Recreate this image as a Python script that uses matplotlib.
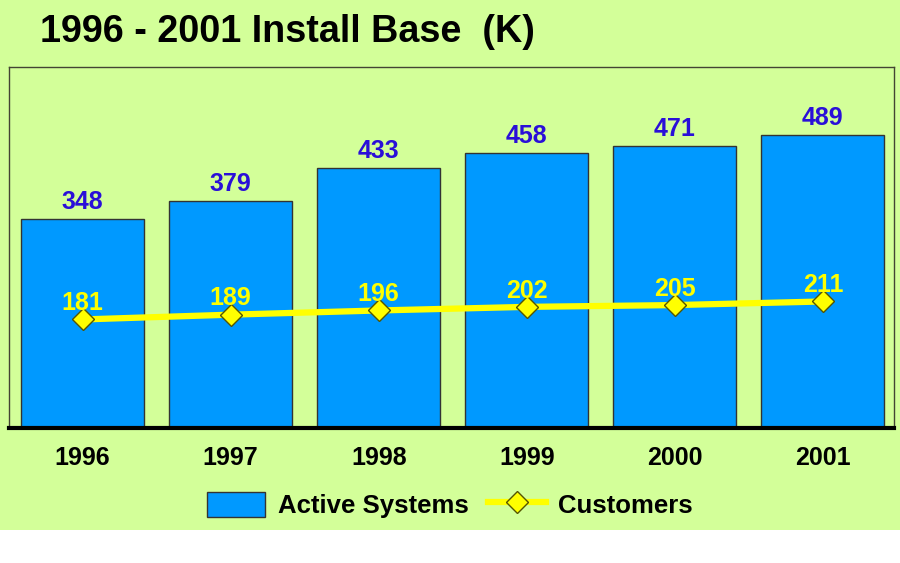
import matplotlib
matplotlib.use("Agg")
import matplotlib.pyplot as plt
from matplotlib.patches import Rectangle

years = ["1996", "1997", "1998", "1999", "2000", "2001"]
active_systems = [348, 379, 433, 458, 471, 489]
customers = [181, 189, 196, 202, 205, 211]

plt.rcParams['font.family'] = ['Liberation Sans', 'DejaVu Sans']
plt.rcParams['font.weight'] = 'bold'

GREEN = '#D3FF99'
BLUE = '#0099FF'
W, H = 900, 563
fig = plt.figure(figsize=(9, 5.63), dpi=100)
fig.patch.set_facecolor('white')
fig.patches.append(Rectangle((0, 1 - 530 / H), 1, 530 / H, transform=fig.transFigure,
                             facecolor=GREEN, edgecolor='none', zorder=-5))

ax = fig.add_axes([9 / W, 1 - 428 / H, (894 - 9) / W, (428 - 67) / H])
ax.set_facecolor(GREEN)
x = list(range(len(years)))
bars = ax.bar(x, active_systems, width=0.83, color=BLUE, edgecolor='#333333',
              linewidth=1.0, label='Active Systems', zorder=2)
line, = ax.plot(x, customers, color='#FFFF00', linewidth=4.5, marker='D', markersize=11,
                markerfacecolor='#FFFF00', markeredgecolor='#555500', markeredgewidth=1.0,
                label='Customers', zorder=3)

for xi, v in zip(x, active_systems):
    ax.annotate(str(v), (xi, v), xytext=(0, 3.5), textcoords='offset points',
                ha='center', va='bottom', fontsize=18, fontweight='bold', color='#2A0FD8')
for xi, v in zip(x, customers):
    ax.annotate(str(v), (xi, v), xytext=(0, 3), textcoords='offset points',
                ha='center', va='bottom', fontsize=18, fontweight='bold', color='#FFFF00')

ax.set_xlim(-0.497, 5.48)
ax.set_ylim(0, 602)
ax.set_yticks([])
ax.set_xticks(x)
ax.set_xticklabels(years, fontsize=18, fontweight='bold')
ax.tick_params(axis='x', length=0, pad=13)
for s in ['left', 'right', 'top']:
    ax.spines[s].set_color('#444433')
    ax.spines[s].set_linewidth(1.0)
ax.spines['bottom'].set_color('black')
ax.spines['bottom'].set_linewidth(3)

fig.text(40 / W, 1 - 32 / H, '1996 - 2001 Install Base  (K)', fontsize=27.2,
         fontweight='bold', ha='left', va='center', color='black')

leg = fig.legend([bars, line], ['Active Systems', 'Customers'], loc='center',
                 bbox_to_anchor=(450 / W, 1 - 505 / H), ncol=2,
                 frameon=False, prop={'size': 18.5, 'weight': 'bold'},
                 handlelength=2.25, handleheight=1.1, handletextpad=0.5,
                 columnspacing=0.75)

fig.savefig('out.png', dpi=100, facecolor=fig.get_facecolor())
